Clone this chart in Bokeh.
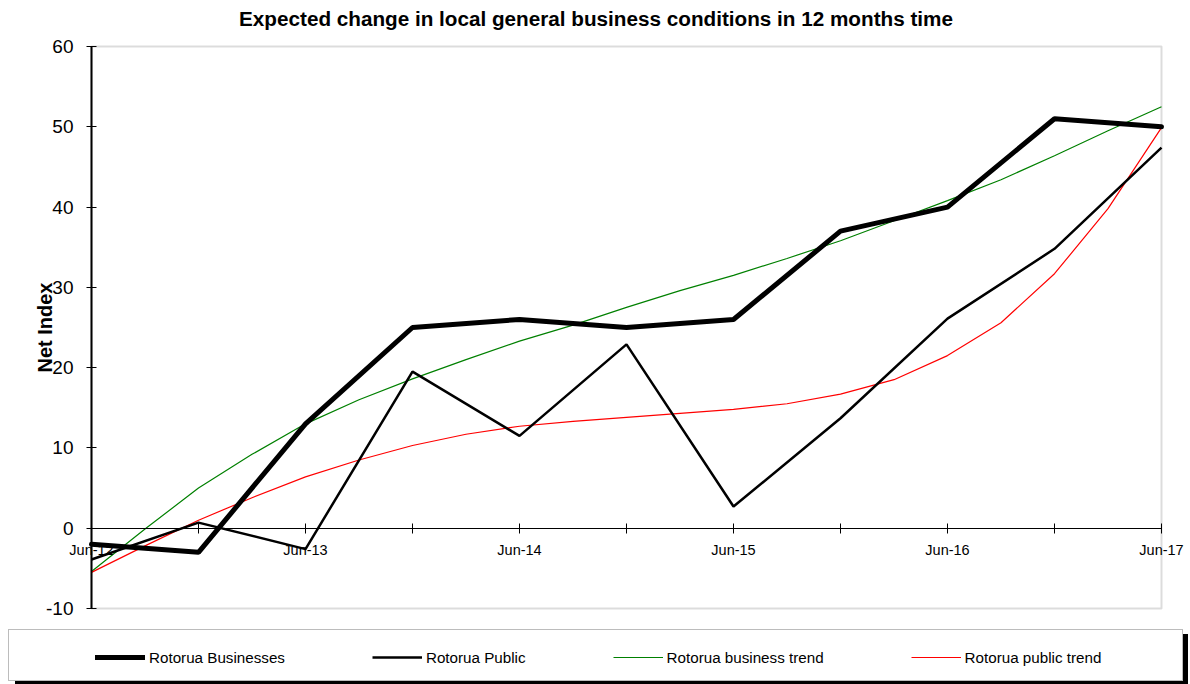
from bokeh.plotting import figure
from bokeh.models import (Range1d, FixedTicker, Legend, LegendItem, Label,
                          BoxAnnotation)
from bokeh.embed import file_html
from bokeh.resources import INLINE

# ---- data ----
periods = ["Jun-12", "Dec-12", "Jun-13", "Dec-13", "Jun-14", "Dec-14",
           "Jun-15", "Dec-15", "Jun-16", "Dec-16", "Jun-17"]
businesses = [-2, -3, 13, 25, 26, 25, 26, 37, 40, 51, 50]
public = [-3.9, 0.7, -2.6, 19.5, 11.5, 22.9, 2.7, 13.7, 26.1, 34.8, 47.4]

trend_periods = ["Jun-12", "Sep-12", "Dec-12", "Mar-13", "Jun-13", "Sep-13", "Dec-13",
                 "Mar-14", "Jun-14", "Sep-14", "Dec-14", "Mar-15", "Jun-15", "Sep-15",
                 "Dec-15", "Mar-16", "Jun-16", "Sep-16", "Dec-16", "Mar-17", "Jun-17"]
business_trend = [-5.4, -0.1, 5.0, 9.2, 13.0, 16.0, 18.6, 21.0, 23.3, 25.3, 27.5,
                  29.6, 31.5, 33.6, 35.8, 38.3, 40.8, 43.4, 46.4, 49.5, 52.5]
public_trend = [-5.5, -2.2, 1.0, 3.8, 6.4, 8.5, 10.3, 11.7, 12.7, 13.3, 13.8,
                14.3, 14.8, 15.5, 16.7, 18.5, 21.5, 25.6, 31.7, 39.8, 49.9]

y_ticks = [-10, 0, 10, 20, 30, 40, 50, 60]
series_names = ["Rotorua Businesses", "Rotorua Public",
                "Rotorua business trend", "Rotorua public trend"]
title_text = "Expected change in local general business conditions in 12 months time"
y_label = "Net Index"

x_idx = list(range(len(periods)))
step = (len(periods) - 1) / (len(trend_periods) - 1)
trend_x = [i * step for i in range(len(trend_periods))]

# ---- layout (pixels) ----
W, H = 1190, 684
PL, PR, PT, PB = 91, 1161, 46, 608   # plot area edges
SANS = "Liberation Sans"

x0, x1 = x_idx[0], x_idx[-1]
y0, y1 = y_ticks[0], y_ticks[-1]
xs = (PR - PL) / (x1 - x0)
ys = (PB - PT) / (y1 - y0)
x_range = Range1d(x0 - PL / xs, x1 + (W - PR) / xs)
y_range = Range1d(y0 - (H - PB) / ys, y1 + PT / ys)

p = figure(width=W, height=H, output_backend="svg", toolbar_location=None,
           x_range=x_range, y_range=y_range,
           min_border_left=0, min_border_right=0, min_border_top=0, min_border_bottom=0)
p.background_fill_color = "white"
p.border_fill_color = "white"
p.outline_line_color = None
p.xgrid.visible = False
p.ygrid.visible = False

# plot-area border
p.add_layout(BoxAnnotation(left=x0, right=x1, bottom=y0, top=y1,
                           fill_alpha=0, line_color="#8a8a8a", line_width=2,
                           level="underlay"))

# y axis at x = first period
ya = p.yaxis[0]
ya.fixed_location = x0
ya.bounds = (y0, y1)
ya.ticker = FixedTicker(ticks=y_ticks)
ya.major_label_overrides = {t: str(t) for t in y_ticks}
ya.minor_tick_line_color = None
ya.axis_line_color = "black"
ya.axis_line_width = 2
ya.major_tick_in = 5
ya.major_tick_out = 5
ya.major_tick_line_color = "black"
ya.major_label_standoff = 13
ya.major_label_text_font = SANS
ya.major_label_text_font_size = "19px"
ya.major_label_text_color = "black"
ya.axis_label = y_label
ya.axis_label_text_font = SANS
ya.axis_label_text_font_style = "bold"
ya.axis_label_text_font_size = "20px"
ya.axis_label_text_color = "black"
ya.axis_label_standoff = -13

# x axis at y = 0
xa = p.xaxis[0]
xa.fixed_location = 0
xa.bounds = (x0, x1)
xa.ticker = FixedTicker(ticks=x_idx)
xa.major_label_overrides = {i: (periods[i] if i % 2 == 0 else "") for i in x_idx}
xa.minor_tick_line_color = None
xa.axis_line_color = "black"
xa.axis_line_width = 1
xa.major_tick_in = 5
xa.major_tick_out = 5
xa.major_tick_line_color = "black"
xa.major_label_standoff = 9
xa.major_label_text_font = SANS
xa.major_label_text_font_size = "14.5px"
xa.major_label_text_color = "black"

r_bt = p.line(trend_x, business_trend, line_color="#008000", line_width=1.2)
r_pt = p.line(trend_x, public_trend, line_color="#ff0000", line_width=1.2)
r_pub = p.line(x_idx, public, line_color="black", line_width=2.5)
r_bus = p.line(x_idx, businesses, line_color="black", line_width=5, line_cap="round")

# title
p.add_layout(Label(x=595.5, y=H - 18, x_units="screen", y_units="screen",
                   text=title_text, text_align="center", text_baseline="alphabetic",
                   text_font=SANS, text_font_style="bold", text_font_size="20.7px",
                   text_color="black"))

# ---- legend: shadow, box, items ----
dummy = p.line(x=[], y=[], line_alpha=0)
box_kw = dict(padding=0, margin=0, spacing=0, glyph_width=1173, glyph_height=50,
              label_standoff=0, label_width=0, label_height=0,
              label_text_alpha=0, label_text_font_size="1px")
shadow = Legend(items=[LegendItem(label=" ", renderers=[dummy])],
                location=(15, 0), border_line_alpha=0,
                background_fill_color="black", background_fill_alpha=1, **box_kw)
box = Legend(items=[LegendItem(label=" ", renderers=[dummy])],
             location=(8, 3), border_line_color="#7a7a7a", border_line_width=1.5,
             background_fill_color="white", background_fill_alpha=1, **box_kw)
items = [LegendItem(label=name, renderers=[r])
         for name, r in zip(series_names, [r_bus, r_pub, r_bt, r_pt])]
leg = Legend(items=items, orientation="horizontal", location=(95, 17),
             border_line_alpha=0, background_fill_alpha=0,
             glyph_width=50, glyph_height=20, label_standoff=4, spacing=87,
             padding=0, margin=0,
             label_text_font=SANS, label_text_font_size="15.2px", label_text_color="black")
p.add_layout(shadow, "center")
p.add_layout(box, "center")
p.add_layout(leg, "center")

open("out.html", "w").write(file_html(p, INLINE))
